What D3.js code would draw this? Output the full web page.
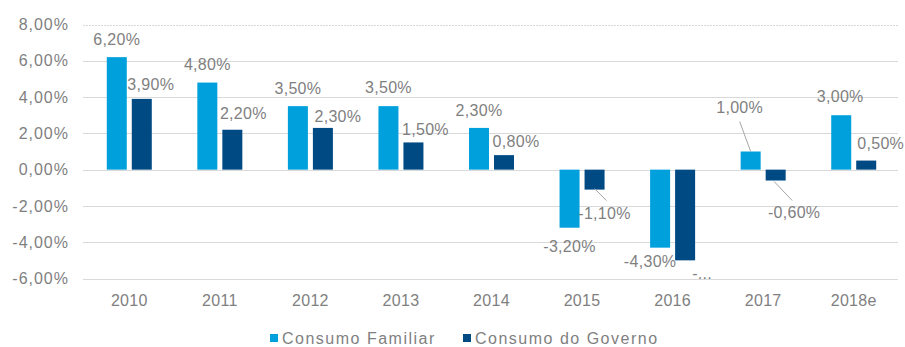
<!DOCTYPE html>
<html>
<head>
<meta charset="utf-8">
<script src="https://cdn.jsdelivr.net/npm/d3@7"></script>
<style>
  html, body { margin: 0; padding: 0; background: #fff; }
  svg { display: block; font-family: "Liberation Sans", Arial, sans-serif; }
</style>
</head>
<body>
<svg id="chart" width="905" height="347"></svg>
<script>
// Annual growth of household and government consumption (%)
const categories = ["2010", "2011", "2012", "2013", "2014", "2015", "2016", "2017", "2018e"];
const seriesNames = ["Consumo Familiar", "Consumo do Governo"];
const consumoFamiliar = [6.2, 4.8, 3.5, 3.5, 2.3, -3.2, -4.3, 1.0, 3.0];
const consumoGoverno = [3.9, 2.2, 2.3, 1.5, 0.8, -1.1, -5.0, -0.6, 0.5];
const yTicks = [-6, -4, -2, 0, 2, 4, 6, 8];

// Label placement: [dx, dy] of the label centre relative to the bar centre / bar end
const labelLayout = [
  [[0, -17.5], [0, -18], [0, -18], [0, -18.5], [0, -17.6], [0, 18.7], [-10, 13.7], [-11, -44], [-1, -18.6]],
  [[9, -14.3], [11, -16], [15, -11.6], [12, -13.5], [12, -13.8], [10, 24], [17, 13], [18.5, 32], [14.5, -17.6]]
];
// labels pulled away from their bars get a leader line
const leaders = [
  { s: 0, i: 7, from: [-11, -30], to: [0, 0] },
  { s: 1, i: 5, from: [0, -1], to: [12, 11] },
  { s: 1, i: 7, from: [-1.5, 1], to: [16.5, 20] }
];
// the 2016 government label does not fit and is shown cut short
const truncated = [{ s: 1, i: 6 }];

const colors = ["#00A0DC", "#004A84"];
const textColor = "#7f7f7f";
const gridColor = "#d9d9d9";

const plot = { left: 83, right: 898, top: 24.5, bottom: 278.5 };

const locale = d3.formatLocale({ decimal: ",", thousands: ".", grouping: [3], currency: ["R$", ""], minus: "-" });
const fmt = v => locale.format(".2f")(v) + "%";

const svg = d3.select("#chart");

const y = d3.scaleLinear().domain([-6, 8]).range([plot.bottom, plot.top]);
const x0 = d3.scaleBand().domain(categories).range([plot.left + 1, plot.right + 1]).paddingInner(0).paddingOuter(0);
const x1 = d3.scaleBand().domain(seriesNames).range([0, x0.bandwidth()]).paddingInner(0.2).paddingOuter(0.911);

// gridlines
const grid = svg.append("g");
yTicks.forEach(t => {
  grid.append("line")
    .attr("x1", plot.left).attr("x2", plot.right)
    .attr("y1", Math.round(y(t)) + 0.5).attr("y2", Math.round(y(t)) + 0.5)
    .attr("stroke", gridColor)
    .attr("stroke-width", 1)
    .attr("stroke-dasharray", t === 8 ? "2,1" : null);
});

// y axis labels
const yAxis = d3.axisLeft(y).tickValues(yTicks).tickFormat(fmt).tickSize(0).tickPadding(0);
const gy = svg.append("g").attr("transform", "translate(69,0)").call(yAxis);
gy.select(".domain").remove();
gy.selectAll("text")
  .attr("fill", textColor)
  .attr("font-size", 16)
  .attr("letter-spacing", "1px")
  .attr("font-family", "Liberation Sans, Arial, sans-serif");

// x axis labels
const xAxis = d3.axisBottom(x0).tickSize(0).tickPadding(0);
const gx = svg.append("g").attr("transform", "translate(0,300)").call(xAxis);
gx.select(".domain").remove();
gx.selectAll("text")
  .attr("fill", textColor)
  .attr("font-size", 16)
  .attr("letter-spacing", "0.3px")
  .attr("dy", "0.35em")
  .attr("font-family", "Liberation Sans, Arial, sans-serif");

// bars
const seriesData = [consumoFamiliar, consumoGoverno];
const bars = svg.append("g");
seriesData.forEach((vals, s) => {
  bars.selectAll(null)
    .data(vals.map((v, i) => ({ v, i })))
    .join("rect")
    .attr("x", d => x0(categories[d.i]) + x1(seriesNames[s]))
    .attr("width", x1.bandwidth())
    .attr("y", d => y(Math.max(0, d.v)))
    .attr("height", d => Math.abs(y(d.v) - y(0)))
    .attr("fill", colors[s]);
});

function anchor(s, i) {
  const v = seriesData[s][i];
  return [x0(categories[i]) + x1(seriesNames[s]) + x1.bandwidth() / 2, y(v)];
}

// leader lines
const lead = svg.append("g");
leaders.forEach(l => {
  const [ax, ay] = anchor(l.s, l.i);
  lead.append("line")
    .attr("x1", ax + l.from[0])
    .attr("y1", ay + l.from[1])
    .attr("x2", ax + l.to[0])
    .attr("y2", ay + l.to[1])
    .attr("stroke", "#a6a6a6")
    .attr("stroke-width", 1);
});

// data labels
const labels = svg.append("g");
seriesData.forEach((vals, s) => {
  vals.forEach((v, i) => {
    const [ax, ay] = anchor(s, i);
    const [dx, dy] = labelLayout[s][i];
    const cut = truncated.some(t => t.s === s && t.i === i);
    const txt = cut ? fmt(v).slice(0, 1) + "..." : fmt(v);
    labels.append("text")
      .attr("x", ax + dx)
      .attr("y", ay + dy)
      .attr("dy", "0.35em")
      .attr("text-anchor", "middle")
      .attr("fill", textColor)
      .attr("font-size", 16)
      .attr("letter-spacing", "0.3px")
      .text(txt);
  });
});

// legend
const legend = svg.append("g");
const legendItems = [{ x: 270, tx: 282 }, { x: 463, tx: 475 }];
seriesNames.forEach((name, s) => {
  legend.append("rect")
    .attr("x", legendItems[s].x).attr("y", 334)
    .attr("width", 8).attr("height", 8)
    .attr("fill", colors[s]);
  legend.append("text")
    .attr("x", legendItems[s].tx)
    .attr("y", 338)
    .attr("dy", "0.35em")
    .attr("fill", textColor)
    .attr("font-size", 16)
    .attr("letter-spacing", "1.5px")
    .text(name);
});
</script>
</body>
</html>
